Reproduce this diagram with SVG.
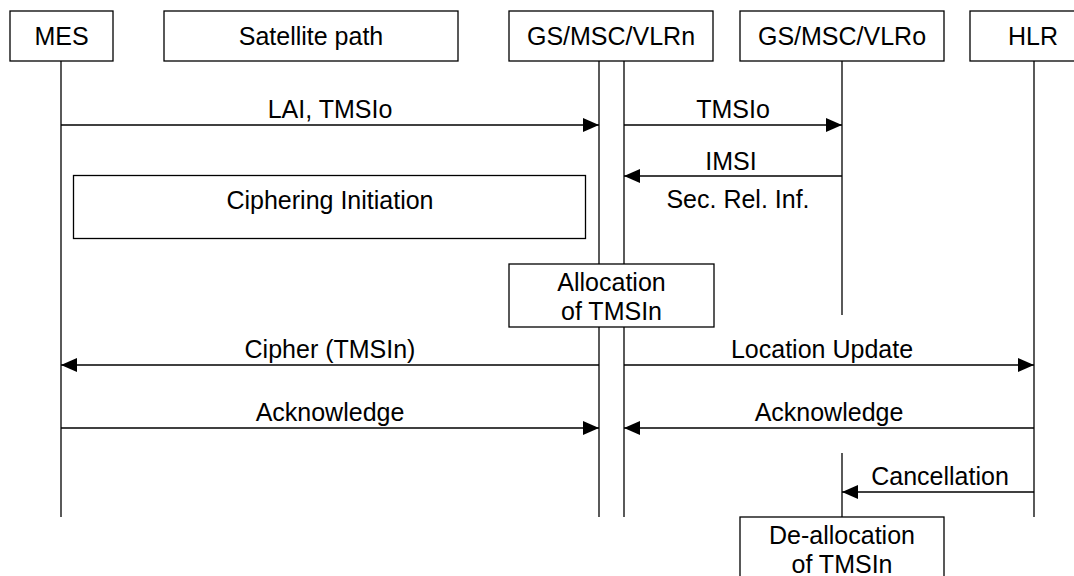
<svg xmlns="http://www.w3.org/2000/svg" width="1074" height="576" viewBox="0 0 1074 576">
  <style>
    .box { fill: #fff; stroke: #000; stroke-width: 1.3; }
    .life { stroke: #000; stroke-width: 1.3; fill: none; }
    .msg { stroke: #000; stroke-width: 1.3; fill: none; marker-end: url(#arrow); }
    text { font-family: "Liberation Sans", Arial, sans-serif; font-size: 25px; fill: #000; text-anchor: middle; }
  </style>
  <defs>
    <marker id="arrow" markerUnits="userSpaceOnUse" markerWidth="16" markerHeight="14" refX="16" refY="7" orient="auto">
      <path d="M0,0 L16,7 L0,14 Z" fill="#000"/>
    </marker>
  </defs>

  <rect width="1074" height="576" fill="#fff"/>

  <!-- lifelines -->
  <g id="lifelines">
    <line class="life" x1="61" y1="61" x2="61" y2="517"/>
    <line class="life" x1="599" y1="61" x2="599" y2="517"/>
    <line class="life" x1="624" y1="61" x2="624" y2="517"/>
    <line class="life" x1="842" y1="61" x2="842" y2="315"/>
    <line class="life" x1="842" y1="453" x2="842" y2="517"/>
    <line class="life" x1="1034" y1="61" x2="1034" y2="517"/>
  </g>

  <!-- header nodes -->
  <g id="mes">
    <rect class="box" x="10" y="11" width="103" height="50"/>
    <text x="61.5" y="44.5">MES</text>
  </g>
  <g id="satellite-path">
    <rect class="box" x="164" y="11" width="294" height="50"/>
    <text x="311" y="44.5">Satellite path</text>
  </g>
  <g id="vlr-new">
    <rect class="box" x="509" y="11" width="204" height="50"/>
    <text x="611" y="44.5">GS/MSC/VLRn</text>
  </g>
  <g id="vlr-old">
    <rect class="box" x="740" y="11" width="204" height="50"/>
    <text x="842" y="44.5">GS/MSC/VLRo</text>
  </g>
  <g id="hlr">
    <rect class="box" x="970" y="11" width="128" height="50"/>
    <text x="1033" y="44.5">HLR</text>
  </g>

  <!-- process boxes -->
  <g id="ciphering-initiation">
    <rect class="box" x="73.5" y="175.5" width="512" height="63"/>
    <text x="330" y="209">Ciphering Initiation</text>
  </g>
  <g id="allocation">
    <rect class="box" x="509" y="264" width="205" height="63"/>
    <text x="611.5" y="290.5">Allocation</text>
    <text x="611.5" y="320">of TMSIn</text>
  </g>
  <g id="deallocation">
    <rect class="box" x="740" y="517" width="204" height="66"/>
    <text x="842" y="543.5">De-allocation</text>
    <text x="842" y="572.5">of TMSIn</text>
  </g>

  <!-- messages -->
  <g id="connectors">
    <line class="msg" x1="61" y1="125" x2="599" y2="125"/>
    <text x="330" y="118">LAI, TMSIo</text>

    <line class="msg" x1="624" y1="125" x2="842" y2="125"/>
    <text x="733" y="118">TMSIo</text>

    <line class="msg" x1="842" y1="176" x2="624" y2="176"/>
    <text x="731" y="170">IMSI</text>
    <text x="738" y="208">Sec. Rel. Inf.</text>

    <line class="msg" x1="599" y1="365" x2="61" y2="365"/>
    <text x="330" y="358">Cipher (TMSIn)</text>

    <line class="msg" x1="624" y1="365" x2="1034" y2="365"/>
    <text x="822" y="358">Location Update</text>

    <line class="msg" x1="61" y1="428" x2="599" y2="428"/>
    <text x="330" y="421">Acknowledge</text>

    <line class="msg" x1="1034" y1="428" x2="624" y2="428"/>
    <text x="829" y="421">Acknowledge</text>

    <line class="msg" x1="1034" y1="492" x2="842" y2="492"/>
    <text x="940" y="485">Cancellation</text>
  </g>
</svg>
